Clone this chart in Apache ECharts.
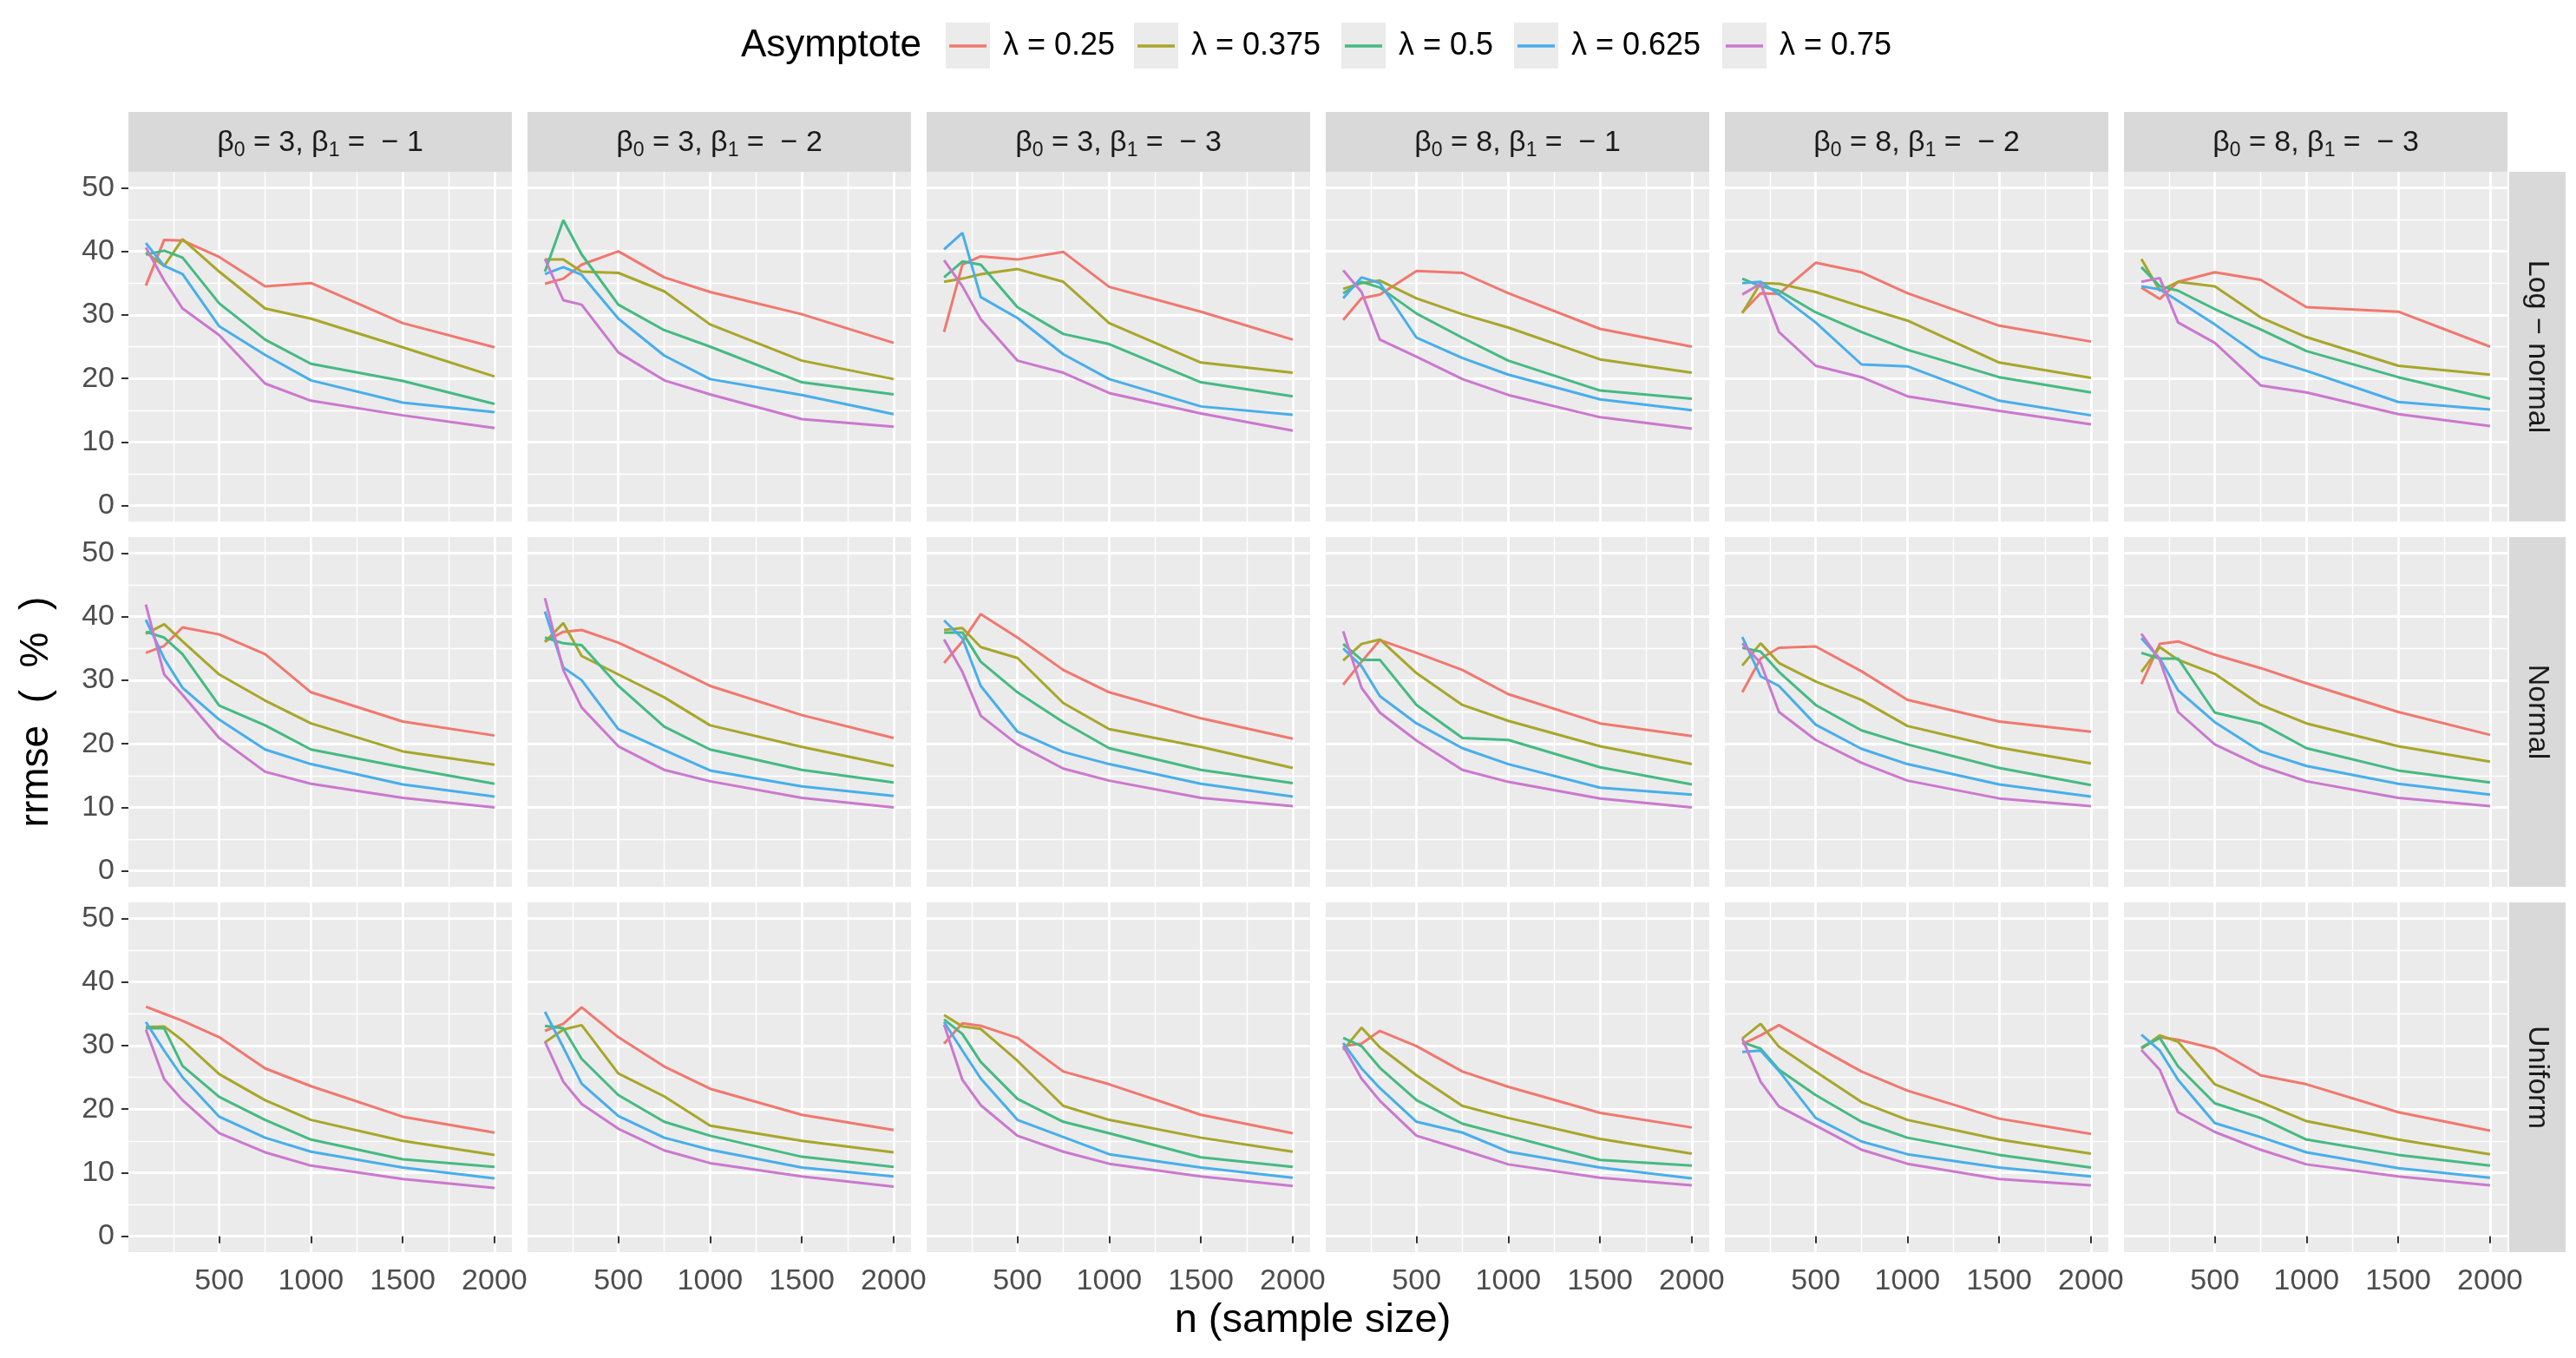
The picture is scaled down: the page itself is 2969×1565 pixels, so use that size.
<!DOCTYPE html>
<html>
<head>
<meta charset="utf-8">
<script src="https://cdn.jsdelivr.net/npm/echarts@6/dist/echarts.min.js"></script>
<style>
html,body{margin:0;padding:0;background:#fff;}
#chart{width:2969px;height:1565px;}
</style>
</head>
<body>
<div id="chart"></div>
<script>
// ---------- data ----------
const sampleSizes = [100, 200, 300, 500, 750, 1000, 1500, 2000];
const lambdaNames = ['λ = 0.25', 'λ = 0.375', 'λ = 0.5', 'λ = 0.625', 'λ = 0.75'];
const lineColors = ['#F0786F', '#A8A62A', '#45BA82', '#48AEEA', '#CB78CE'];
const colBeta0 = ['3', '3', '3', '8', '8', '8'];
const colBeta1 = ['1', '2', '3', '1', '2', '3'];
const rowLabels = ['Log − normal', 'Normal', 'Uniform'];
const yMajorTicks = [0, 10, 20, 30, 40, 50];
const yMinorTicks = [5, 15, 25, 35, 45];
const xMajorTicks = [500, 1000, 1500, 2000];
const xMinorTicks = [250, 750, 1250, 1750];

// rrmse (%) per panel; rows of each array: λ = 0.25, 0.375, 0.5, 0.625, 0.75
const logNormal_b3_m1 = [
  [34.6, 41.8, 41.7, 39.1, 34.5, 35.0, 28.7, 24.9],
  [39.8, 37.7, 41.9, 36.8, 31.0, 29.4, 24.9, 20.3],
  [39.5, 40.1, 39.0, 31.8, 26.1, 22.3, 19.6, 16.0],
  [41.3, 37.7, 36.4, 28.2, 23.7, 19.7, 16.2, 14.7],
  [40.6, 35.4, 31.0, 26.8, 19.2, 16.5, 14.2, 12.2]];
const logNormal_b3_m2 = [
  [34.9, 35.7, 37.9, 40.0, 35.9, 33.6, 30.1, 25.6],
  [38.7, 38.7, 36.8, 36.6, 33.7, 28.5, 22.8, 19.9],
  [36.8, 44.9, 39.5, 31.6, 27.6, 25.0, 19.4, 17.5],
  [36.4, 37.5, 36.3, 29.4, 23.6, 19.9, 17.4, 14.4],
  [38.8, 32.3, 31.6, 24.1, 19.7, 17.5, 13.6, 12.4]];
const logNormal_b3_m3 = [
  [27.3, 37.9, 39.2, 38.7, 39.9, 34.4, 30.5, 26.1],
  [35.2, 35.7, 36.4, 37.2, 35.2, 28.7, 22.5, 20.9],
  [35.9, 38.4, 37.9, 31.2, 27.0, 25.4, 19.4, 17.2],
  [40.3, 42.9, 32.8, 29.5, 23.8, 19.9, 15.6, 14.3],
  [38.6, 34.5, 29.3, 22.8, 20.9, 17.7, 14.5, 11.8]];
const logNormal_b8_m1 = [
  [29.2, 32.6, 33.2, 36.9, 36.6, 33.4, 27.8, 25.0],
  [34.1, 35.0, 35.4, 32.6, 30.1, 28.0, 23.0, 20.9],
  [33.4, 35.2, 34.3, 30.2, 26.4, 22.8, 18.1, 16.8],
  [32.6, 35.9, 35.0, 26.4, 23.2, 20.6, 16.7, 15.0],
  [37.0, 33.6, 26.1, 23.4, 19.9, 17.4, 13.9, 12.1]];
const logNormal_b8_m2 = [
  [30.4, 33.4, 33.3, 38.2, 36.7, 33.4, 28.3, 25.8],
  [30.3, 35.0, 34.9, 33.6, 31.3, 29.1, 22.5, 20.1],
  [35.7, 34.5, 33.8, 30.4, 27.3, 24.5, 20.2, 17.8],
  [35.0, 35.2, 33.2, 28.8, 22.2, 21.9, 16.5, 14.2],
  [33.2, 34.9, 27.3, 22.0, 20.2, 17.2, 14.9, 12.8]];
const logNormal_b8_m3 = [
  [34.3, 32.5, 35.2, 36.7, 35.5, 31.2, 30.5, 25.0],
  [38.8, 33.8, 35.2, 34.5, 29.6, 26.5, 22.0, 20.6],
  [37.5, 34.5, 33.8, 30.9, 27.7, 24.3, 20.2, 16.8],
  [34.5, 34.0, 32.2, 28.5, 23.4, 21.2, 16.3, 15.1],
  [35.2, 35.8, 28.8, 25.6, 18.9, 17.8, 14.4, 12.5]];

const normal_b3_m1 = [
  [34.3, 35.4, 38.3, 37.2, 34.1, 28.1, 23.5, 21.3],
  [37.3, 38.8, 36.1, 30.9, 26.8, 23.2, 18.8, 16.7],
  [37.6, 36.7, 34.1, 26.0, 22.9, 19.1, 16.3, 13.7],
  [39.5, 33.4, 28.8, 23.8, 19.1, 16.8, 13.6, 11.7],
  [41.9, 30.9, 27.7, 20.9, 15.6, 13.7, 11.5, 10.0]];
const normal_b3_m2 = [
  [36.1, 37.6, 37.9, 35.9, 32.6, 29.1, 24.5, 20.9],
  [36.0, 39.0, 33.8, 30.9, 27.3, 22.9, 19.5, 16.5],
  [36.7, 35.8, 35.5, 29.1, 22.7, 19.1, 15.9, 13.9],
  [40.8, 32.0, 30.0, 22.3, 19.0, 15.8, 13.3, 11.8],
  [42.9, 31.6, 25.7, 19.6, 15.9, 14.1, 11.5, 10.0]];
const normal_b3_m3 = [
  [32.7, 36.1, 40.4, 36.7, 31.6, 28.1, 24.0, 20.8],
  [37.9, 38.2, 35.2, 33.5, 26.4, 22.3, 19.5, 16.2],
  [37.5, 37.5, 32.9, 28.1, 23.4, 19.3, 15.9, 13.8],
  [39.4, 36.6, 29.1, 21.9, 18.7, 16.8, 13.7, 11.7],
  [36.4, 31.3, 24.4, 19.9, 16.1, 14.2, 11.5, 10.2]];
const normal_b8_m1 = [
  [29.3, 32.9, 36.3, 34.3, 31.6, 27.8, 23.2, 21.2],
  [33.1, 35.7, 36.4, 31.1, 26.1, 23.6, 19.6, 16.8],
  [35.7, 33.2, 33.2, 26.1, 20.9, 20.6, 16.3, 13.6],
  [35.0, 32.2, 27.5, 23.2, 19.3, 16.8, 13.1, 12.0],
  [37.7, 28.8, 24.9, 20.5, 15.9, 14.0, 11.4, 10.0]];
const normal_b8_m2 = [
  [28.1, 33.4, 35.1, 35.3, 31.4, 26.9, 23.5, 21.9],
  [32.3, 35.8, 32.7, 29.8, 26.9, 22.8, 19.4, 16.9],
  [35.1, 34.5, 31.3, 26.1, 22.1, 19.9, 16.2, 13.5],
  [36.8, 30.6, 29.1, 23.0, 19.2, 16.8, 13.6, 11.7],
  [35.8, 32.7, 25.0, 20.6, 17.0, 14.2, 11.4, 10.2]];
const normal_b8_m3 = [
  [29.4, 35.7, 36.1, 34.0, 31.9, 29.5, 25.0, 21.4],
  [31.3, 35.2, 33.2, 31.0, 26.1, 23.2, 19.6, 17.2],
  [34.3, 33.4, 33.4, 24.9, 23.2, 19.3, 15.8, 13.9],
  [36.6, 33.4, 28.4, 23.4, 18.8, 16.5, 13.7, 12.0],
  [37.3, 33.2, 25.0, 19.9, 16.5, 14.1, 11.5, 10.2]];

const uniform_b3_m1 = [
  [36.1, 35.0, 33.9, 31.3, 26.4, 23.6, 18.8, 16.3],
  [32.9, 33.0, 30.8, 25.5, 21.4, 18.3, 15.0, 12.8],
  [32.7, 32.7, 26.8, 21.9, 18.3, 15.2, 12.1, 10.9],
  [33.7, 29.2, 25.0, 18.8, 15.5, 13.3, 10.8, 9.1],
  [32.5, 24.7, 21.4, 16.2, 13.2, 11.1, 9.0, 7.6]];
const uniform_b3_m2 = [
  [32.3, 33.4, 36.0, 31.3, 26.7, 23.2, 19.1, 16.7],
  [30.5, 32.5, 33.2, 25.6, 22.0, 17.4, 15.0, 13.2],
  [33.1, 32.7, 27.9, 22.2, 18.0, 15.8, 12.5, 10.9],
  [35.3, 29.7, 24.0, 18.9, 15.5, 13.6, 10.8, 9.4],
  [30.6, 24.3, 20.8, 16.9, 13.5, 11.5, 9.4, 7.8]];
const uniform_b3_m3 = [
  [30.3, 33.5, 33.1, 31.2, 25.9, 23.9, 19.1, 16.2],
  [34.8, 33.0, 32.6, 27.6, 20.5, 18.3, 15.5, 13.3],
  [34.1, 31.8, 27.4, 21.6, 18.0, 16.2, 12.4, 10.9],
  [33.7, 29.2, 24.8, 18.3, 15.6, 12.9, 10.8, 9.2],
  [33.3, 24.6, 20.6, 15.8, 13.3, 11.4, 9.4, 7.9]];
const uniform_b8_m1 = [
  [29.9, 30.3, 32.3, 29.9, 25.9, 23.5, 19.4, 17.1],
  [29.3, 32.8, 29.7, 25.3, 20.5, 18.6, 15.3, 13.0],
  [31.2, 29.9, 26.5, 21.4, 17.7, 15.8, 12.0, 11.1],
  [30.4, 26.4, 23.3, 18.0, 16.3, 13.3, 10.8, 9.1],
  [29.9, 24.8, 21.3, 15.8, 13.6, 11.3, 9.2, 8.0]];
const uniform_b8_m2 = [
  [30.2, 31.6, 33.2, 29.9, 25.9, 22.9, 18.5, 16.1],
  [31.1, 33.4, 29.8, 25.9, 21.1, 18.3, 15.2, 13.0],
  [30.5, 29.5, 26.2, 22.2, 18.0, 15.5, 12.8, 10.8],
  [29.0, 29.2, 26.0, 18.6, 14.9, 12.9, 10.8, 9.4],
  [31.1, 24.3, 20.4, 17.4, 13.6, 11.4, 9.0, 8.0]];
const uniform_b8_m3 = [
  [29.7, 31.3, 30.9, 29.5, 25.3, 23.9, 19.5, 16.6],
  [29.5, 31.6, 30.6, 23.9, 21.1, 18.1, 15.2, 12.9],
  [29.6, 31.2, 26.7, 20.9, 18.6, 15.2, 12.8, 11.1],
  [31.7, 29.2, 24.6, 17.8, 15.6, 13.2, 10.7, 9.2],
  [29.3, 26.2, 19.5, 16.4, 13.6, 11.3, 9.4, 8.0]];

const panelData = [
  [logNormal_b3_m1, logNormal_b3_m2, logNormal_b3_m3, logNormal_b8_m1, logNormal_b8_m2, logNormal_b8_m3],
  [normal_b3_m1, normal_b3_m2, normal_b3_m3, normal_b8_m1, normal_b8_m2, normal_b8_m3],
  [uniform_b3_m1, uniform_b3_m2, uniform_b3_m3, uniform_b8_m1, uniform_b8_m2, uniform_b8_m3]];

// ---------- layout ----------
const FONT = '"Liberation Sans", Arial, Helvetica, sans-serif';
const L0 = 148, PW = 442, GX = 18;
const T0 = 198, PH = 403, GY = 18;
const STRIP_H = 69, RSTRIP_W = 65;
const TICK_FS = 34;
const X_MIN = 5, X_MAX = 2095, Y_MIN = -2.5, Y_MAX = 52.5;
const plainNum = v => String(v);

const grids = [], xAxes = [], yAxes = [], series = [], graphics = [];

for (let r = 0; r < 3; r++) {
  for (let c = 0; c < 6; c++) {
    const gi = r * 6 + c;
    const left = L0 + c * (PW + GX);
    const top = T0 + r * (PH + GY);
    grids.push({left: left, top: top, width: PW, height: PH, show: true,
      backgroundColor: '#EBEBEB', borderWidth: 0, containLabel: false});
    const bottomRow = (r === 2), leftCol = (c === 0);
    // minor x axis (grid only)
    xAxes.push({type: 'value', gridIndex: gi, min: X_MIN, max: X_MAX, position: 'top',
      axisLine: {show: false}, axisLabel: {show: false},
      axisTick: {show: false, customValues: xMinorTicks},
      splitLine: {show: true, lineStyle: {color: '#FFFFFF', width: 1.4}}});
    // major x axis
    xAxes.push({type: 'value', gridIndex: gi, min: X_MIN, max: X_MAX, position: 'bottom',
      axisLine: {show: false},
      axisTick: {show: bottomRow, customValues: xMajorTicks, length: 8, lineStyle: {color: '#333333', width: 2}},
      axisLabel: {show: bottomRow, customValues: xMajorTicks, margin: 17, color: '#4D4D4D',
        fontSize: TICK_FS, fontFamily: FONT, formatter: plainNum},
      splitLine: {show: true, lineStyle: {color: '#FFFFFF', width: 2.8}}});
    // minor y axis
    yAxes.push({type: 'value', gridIndex: gi, min: Y_MIN, max: Y_MAX, position: 'right',
      axisLine: {show: false}, axisLabel: {show: false},
      axisTick: {show: false, customValues: yMinorTicks},
      splitLine: {show: true, lineStyle: {color: '#FFFFFF', width: 1.4}}});
    // major y axis
    yAxes.push({type: 'value', gridIndex: gi, min: Y_MIN, max: Y_MAX, position: 'left',
      axisLine: {show: false},
      axisTick: {show: leftCol, customValues: yMajorTicks, length: 8, lineStyle: {color: '#333333', width: 2}},
      axisLabel: {show: leftCol, customValues: yMajorTicks, margin: 16, color: '#4D4D4D',
        fontSize: TICK_FS, fontFamily: FONT, formatter: plainNum},
      splitLine: {show: true, lineStyle: {color: '#FFFFFF', width: 2.8}}});

    const pd = panelData[r][c];
    for (let k = 0; k < 5; k++) {
      series.push({type: 'line', name: lambdaNames[k], xAxisIndex: 2 * gi + 1, yAxisIndex: 2 * gi + 1,
        data: sampleSizes.map((n, i) => [n, pd[k][i]]),
        showSymbol: false, symbol: 'none', silent: true, animation: false,
        lineStyle: {color: lineColors[k], width: 3}, itemStyle: {color: lineColors[k]}});
    }
  }
}

// top strips
for (let c = 0; c < 6; c++) {
  const left = L0 + c * (PW + GX);
  graphics.push({type: 'rect', shape: {x: left, y: T0 - STRIP_H, width: PW, height: STRIP_H},
    style: {fill: '#D9D9D9'}, silent: true});
  graphics.push({type: 'text', x: left + PW / 2, y: T0 - STRIP_H / 2 + 1, silent: true,
    style: {text: '{t|β}{s|0}{t| = ' + colBeta0[c] + ', β}{s|1}{t| =  − ' + colBeta1[c] + '}',
      align: 'center', verticalAlign: 'middle',
      rich: {
        t: {fontSize: 34, fontFamily: FONT, fill: '#1A1A1A', lineHeight: 42, verticalAlign: 'middle'},
        s: {fontSize: 23, fontFamily: FONT, fill: '#1A1A1A', lineHeight: 23, verticalAlign: 'bottom'}
      }}});
}
// right strips
const plotsRight = L0 + 6 * PW + 5 * GX;
const RX = plotsRight + 2;
for (let r = 0; r < 3; r++) {
  const top = T0 + r * (PH + GY);
  graphics.push({type: 'rect', shape: {x: RX, y: top, width: RSTRIP_W, height: PH},
    style: {fill: '#D9D9D9'}, silent: true});
  graphics.push({type: 'text', x: RX + RSTRIP_W / 2, y: top + PH / 2, rotation: -Math.PI / 2, silent: true,
    style: {text: rowLabels[r], align: 'center', verticalAlign: 'middle', fontSize: 34,
      fontFamily: FONT, fill: '#1A1A1A'}});
}
// axis titles
graphics.push({type: 'text', x: 1513, y: 1522, silent: true,
  style: {text: 'n (sample size)', align: 'center', verticalAlign: 'middle', fontSize: 47,
    fontFamily: FONT, fill: '#000000'}});
graphics.push({type: 'text', x: 42, y: T0 + (3 * PH + 2 * GY) / 2, rotation: Math.PI / 2, silent: true,
  style: {text: 'rrmse  (  %  )', align: 'center', verticalAlign: 'middle', fontSize: 46,
    fontFamily: FONT, fill: '#000000'}});
// legend title and key backgrounds
graphics.push({type: 'text', x: 854, y: 53, silent: true,
  style: {text: 'Asymptote', align: 'left', verticalAlign: 'middle', fontSize: 44,
    fontFamily: FONT, fill: '#000000'}});
const legendKeyX = [1090, 1307, 1546, 1745, 1985];
const legends = [];
for (let k = 0; k < 5; k++) {
  graphics.push({type: 'rect', z: -1, shape: {x: legendKeyX[k], y: 26, width: 51, height: 53},
    style: {fill: '#EBEBEB'}, silent: true});
  legends.push({show: true, data: [lambdaNames[k]], left: legendKeyX[k] + 4, top: 33, padding: 0,
    icon: 'rect', itemWidth: 43, itemHeight: 3.5, selectedMode: false,
    textStyle: {fontSize: 36, fontFamily: FONT, color: '#000000', lineHeight: 40, padding: [0, 0, 0, 14]}});
}

const chart = echarts.init(document.getElementById('chart'), null, {renderer: 'canvas'});
chart.setOption({
  animation: false,
  backgroundColor: '#FFFFFF',
  grid: grids, xAxis: xAxes, yAxis: yAxes, series: series,
  legend: legends,
  graphic: graphics
});
</script>
</body>
</html>
